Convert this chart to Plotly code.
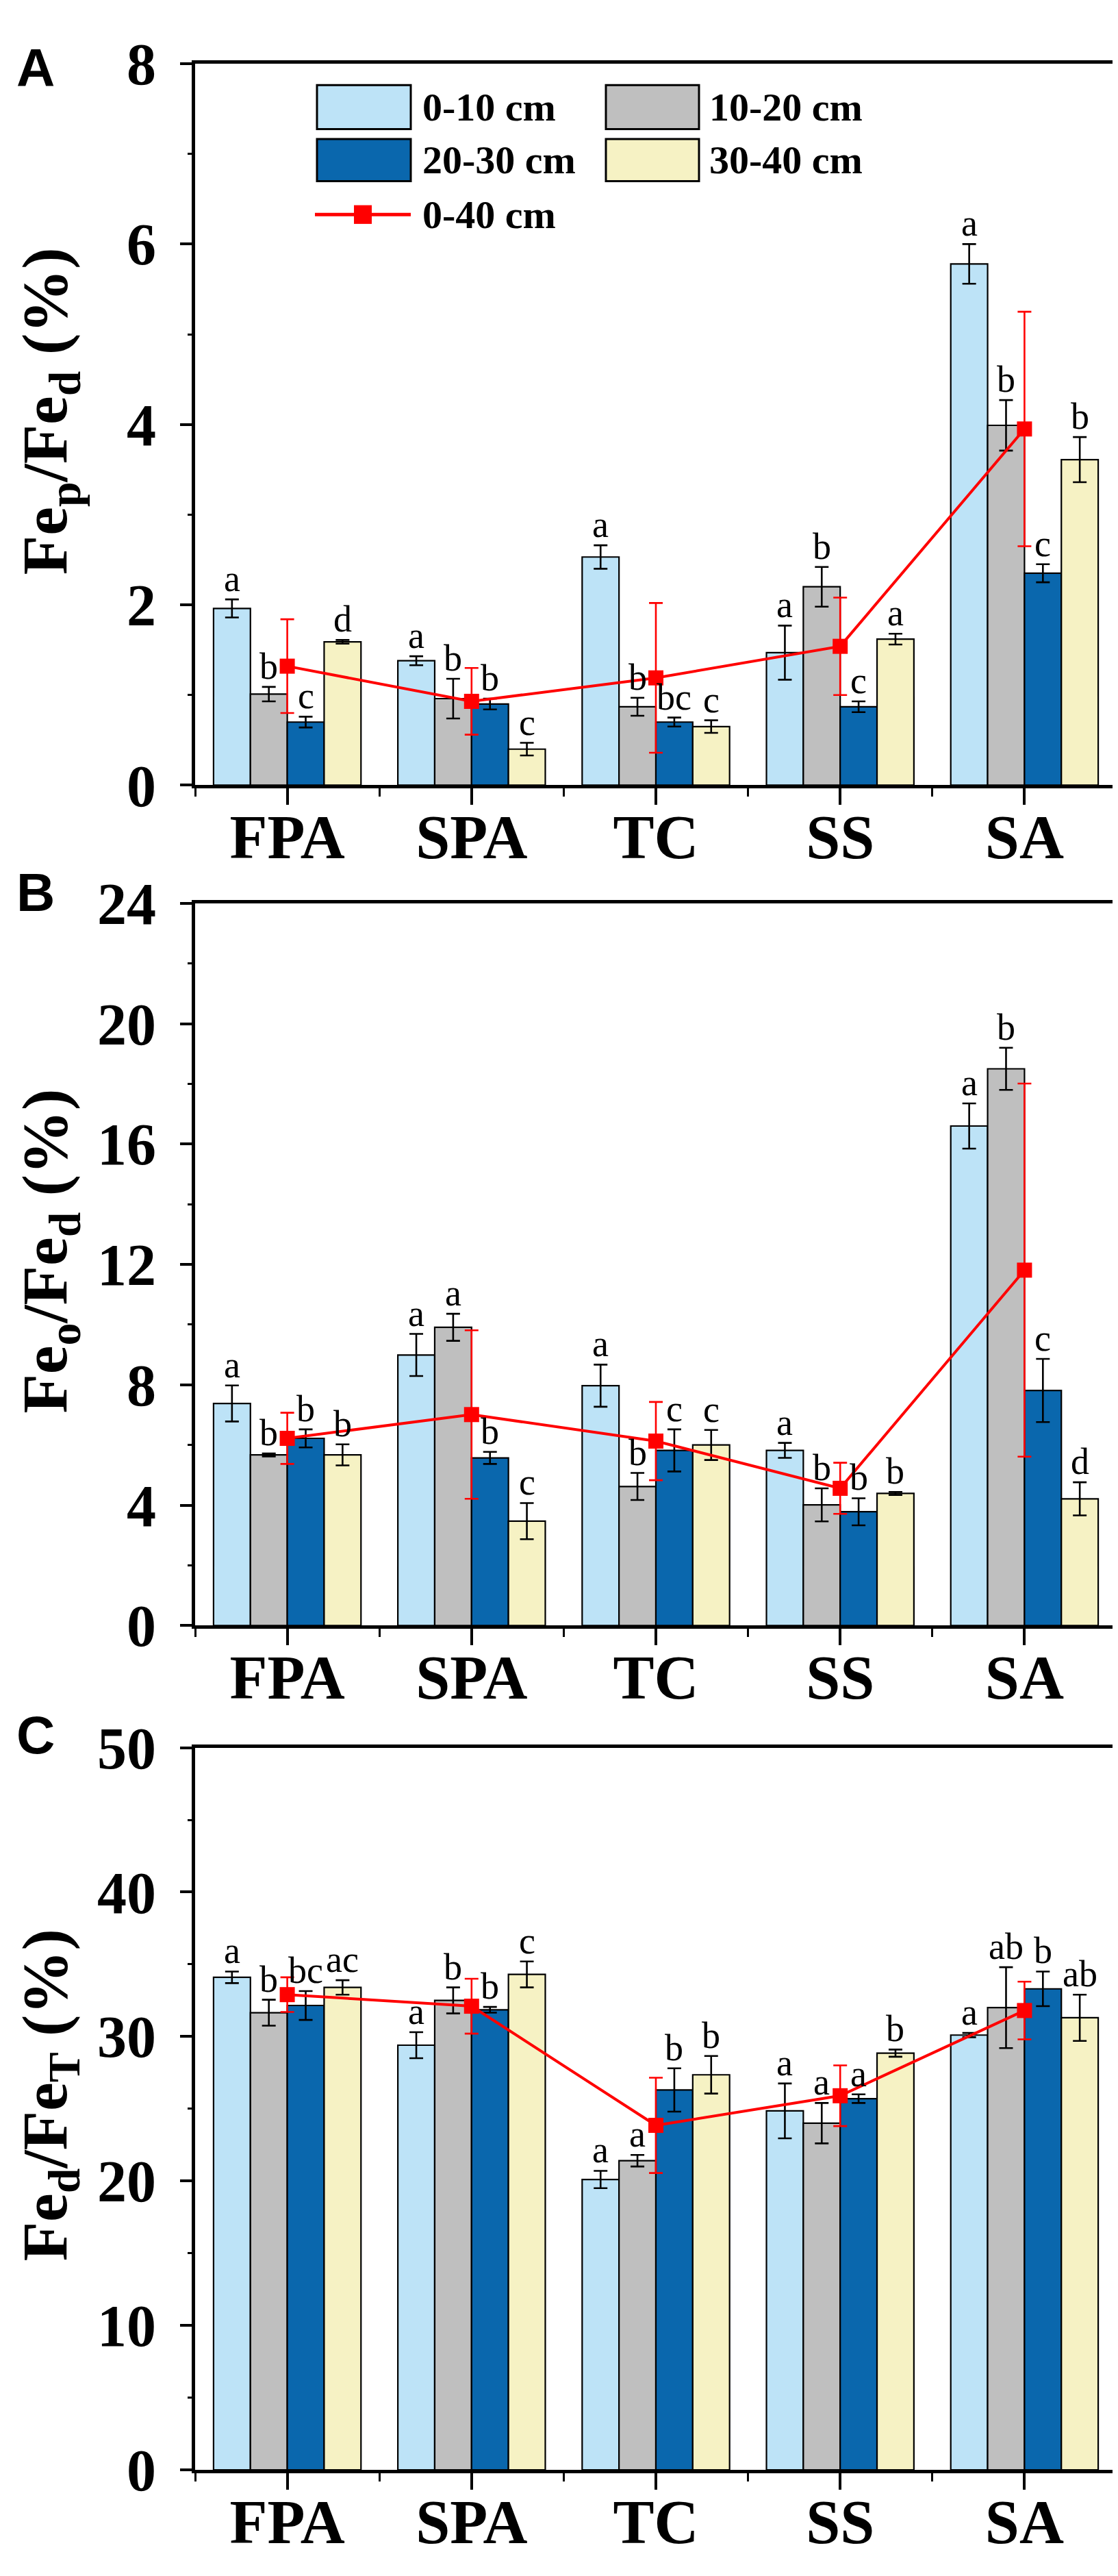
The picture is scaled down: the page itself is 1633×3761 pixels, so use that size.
import plotly.graph_objects as go

W, H = 1633, 3761

categories = ["FPA", "SPA", "TC", "SS", "SA"]
depths = ["0-10 cm", "10-20 cm", "20-30 cm", "30-40 cm"]
mean_label = "0-40 cm"
colors = ["#BDE3F7", "#BFBFBF", "#0A67AD", "#F6F2C4"]

# Panel A: Fep/Fed
a_010 = [1.96, 1.38, 2.53, 1.47, 5.78]
a_010_err = [0.10, 0.05, 0.13, 0.30, 0.22]
a_1020 = [1.01, 0.96, 0.87, 2.20, 3.99]
a_1020_err = [0.08, 0.22, 0.10, 0.22, 0.28]
a_2030 = [0.70, 0.90, 0.70, 0.87, 2.35]
a_2030_err = [0.06, 0.06, 0.05, 0.06, 0.10]
a_3040 = [1.59, 0.40, 0.65, 1.62, 3.61]
a_3040_err = [0.02, 0.07, 0.07, 0.06, 0.25]
a_mean = [1.32, 0.93, 1.19, 1.54, 3.95]
a_mean_err = [0.52, 0.37, 0.83, 0.54, 1.30]
a_letters = [["a", "b", "c", "d"], ["a", "b", "b", "c"], ["a", "b", "bc", "c"],
             ["a", "b", "c", "a"], ["a", "b", "c", "b"]]

# Panel B: Feo/Fed
b_010 = [7.38, 8.99, 7.97, 5.82, 16.6]
b_010_err = [0.60, 0.70, 0.70, 0.25, 0.75]
b_1020 = [5.67, 9.91, 4.62, 4.01, 18.5]
b_1020_err = [0.05, 0.45, 0.45, 0.55, 0.70]
b_2030 = [6.22, 5.57, 5.82, 3.78, 7.81]
b_2030_err = [0.30, 0.20, 0.70, 0.45, 1.05]
b_3040 = [5.67, 3.47, 6.00, 4.39, 4.21]
b_3040_err = [0.35, 0.60, 0.50, 0.05, 0.55]
b_mean = [6.22, 7.01, 6.13, 4.56, 11.81]
b_mean_err = [0.85, 2.80, 1.30, 0.85, 6.20]
b_letters = [["a", "b", "b", "b"], ["a", "a", "b", "c"], ["a", "b", "c", "c"],
             ["a", "b", "b", "b"], ["a", "b", "c", "d"]]

# Panel C: Fed/FeT
c_010 = [34.1, 29.4, 20.1, 24.85, 30.1]
c_010_err = [0.4, 0.9, 0.6, 1.9, 0.15]
c_1020 = [31.65, 32.5, 21.4, 24.0, 32.0]
c_1020_err = [0.9, 0.9, 0.4, 1.4, 2.8]
c_2030 = [32.15, 31.85, 26.3, 25.7, 33.3]
c_2030_err = [1.0, 0.2, 1.5, 0.3, 1.2]
c_3040 = [33.4, 34.3, 27.35, 28.85, 31.3]
c_3040_err = [0.5, 0.9, 1.3, 0.25, 1.6]
c_mean = [32.9, 32.1, 23.85, 25.9, 31.8]
c_mean_err = [1.2, 1.9, 3.3, 2.1, 2.0]
c_letters = [["a", "b", "bc", "ac"], ["a", "b", "b", "c"], ["a", "a", "b", "b"],
             ["a", "a", "a", "b"], ["a", "ab", "b", "ab"]]

y_titles = ["Fe<sub>p</sub>/Fe<sub>d</sub> (%)",
            "Fe<sub>o</sub>/Fe<sub>d</sub> (%)",
            "Fe<sub>d</sub>/Fe<sub>T</sub> (%)"]
panel_tags = ["A", "B", "C"]
y_ranges = [[0, 8], [0, 24], [0, 50]]
y_major = [2, 4, 10]
y_minor = [1, 2, 5]

panels = [
    ([a_010, a_1020, a_2030, a_3040], [a_010_err, a_1020_err, a_2030_err, a_3040_err],
     a_mean, a_mean_err, a_letters),
    ([b_010, b_1020, b_2030, b_3040], [b_010_err, b_1020_err, b_2030_err, b_3040_err],
     b_mean, b_mean_err, b_letters),
    ([c_010, c_1020, c_2030, c_3040], [c_010_err, c_1020_err, c_2030_err, c_3040_err],
     c_mean, c_mean_err, c_letters),
]

# pixel geometry of each panel's plot area (top, bottom) and tag centres
px_left, px_right = 277, 1623
px_rows = [(39, 1120), (1297, 2379), (2562, 3644)]
tag_y = [45, 1281, 2543]

SERIF = "Liberation Serif"
SANS = "Liberation Sans"

fig = go.Figure()
xpos = list(range(len(categories)))
group_w = 0.8
n = len(depths)
offsets = [(j - (n - 1) / 2) * group_w / n for j in range(n)]

annotations = []
layout_axes = {}
for p, (series, errs, mean, mean_err, letters) in enumerate(panels):
    sfx = "" if p == 0 else str(p + 1)
    xa, ya = "x" + sfx, "y" + sfx
    for j in range(n):
        fig.add_trace(go.Bar(
            x=xpos, y=series[j], name=depths[j], xaxis=xa, yaxis=ya,
            marker=dict(color=colors[j], line=dict(color="black", width=2.2)),
            error_y=dict(type="data", array=errs[j], color="black", thickness=2.6, width=10),
            showlegend=False,
        ))
    fig.add_trace(go.Scatter(
        x=xpos, y=mean, name=mean_label, xaxis=xa, yaxis=ya, mode="lines+markers",
        line=dict(color="#FF0000", width=4),
        marker=dict(symbol="square", size=22, color="#FF0000"),
        error_y=dict(type="data", array=mean_err, color="#FF0000", thickness=2.6, width=10),
        showlegend=False,
    ))
    for i in range(len(categories)):
        for j in range(n):
            annotations.append(dict(
                x=xpos[i] + offsets[j], y=series[j][i] + errs[j][i], xref=xa, yref=ya,
                text=letters[i][j], showarrow=False, yanchor="bottom", xanchor="center",
                yshift=-2, font=dict(family=SERIF, size=54, color="black")))
    top, bot = px_rows[p]
    dom_y = [1 - bot / H, 1 - top / H]
    layout_axes["xaxis" + sfx] = dict(
        domain=[px_left / W, px_right / W], range=[-0.5, 4.5], anchor=ya,
        tickmode="array", tickvals=xpos, ticktext=categories,
        ticks="outside", ticklen=24, tickwidth=3.5, tickcolor="black",
        minor=dict(ticks="outside", ticklen=12, tickwidth=3, tickcolor="black", tick0=0.5, dtick=1),
        showline=True, linewidth=4.5, linecolor="black", mirror=True,
        showgrid=False, zeroline=False,
        tickfont=dict(family=SERIF, size=90, color="black", weight="bold"),
        ticklabelstandoff=-30,
    )
    layout_axes["yaxis" + sfx] = dict(
        domain=dom_y, range=y_ranges[p], anchor=xa,
        tickmode="linear", tick0=0, dtick=y_major[p],
        ticks="outside", ticklen=17, tickwidth=3.5, tickcolor="black",
        minor=dict(ticks="outside", ticklen=6, tickwidth=3, tickcolor="black", dtick=y_minor[p]),
        showline=True, linewidth=4.5, linecolor="black", mirror=True,
        showgrid=False, zeroline=False,
        tickfont=dict(family=SERIF, size=86, color="black", weight="bold"),
        ticklabelstandoff=18,
    )
    # y-axis title
    annotations.append(dict(
        x=64 / W, y=1 - ((top + bot) / 2 - 20) / H, xref="paper", yref="paper",
        text="<b>" + y_titles[p] + "</b>", showarrow=False, textangle=-90,
        xanchor="center", yanchor="middle", borderpad=0,
        font=dict(family=SERIF, size=94, color="black")))
    # panel tag
    annotations.append(dict(
        x=14 / W, y=1 - tag_y[p] / H, xref="paper", yref="paper",
        text="<b>" + panel_tags[p] + "</b>", showarrow=False,
        xanchor="left", yanchor="middle",
        font=dict(family=SANS, size=78, color="black")))

# manual legend in panel A (large swatches like the original)
shapes = []
leg_cols = [(455, 592, 607), (877, 1013, 1026)]
leg_rows = [(71, 137), (152, 215)]
for j in range(n):
    col = leg_cols[j % 2]
    row = leg_rows[j // 2]
    shapes.append(dict(type="rect", xref="paper", yref="paper",
                       x0=col[0] / W, x1=col[1] / W, y0=1 - row[1] / H, y1=1 - row[0] / H,
                       fillcolor=colors[j], line=dict(color="black", width=3)))
    annotations.append(dict(
        x=col[2] / W, y=1 - (row[0] + row[1]) / 2 / H, xref="paper", yref="paper",
        text="<b>" + depths[j] + "</b>", showarrow=False, xanchor="left", yanchor="middle",
        font=dict(family=SERIF, size=58, color="black")))
ly = 265
shapes.append(dict(type="line", xref="paper", yref="paper",
                   x0=452 / W, x1=592 / W, y0=1 - ly / H, y1=1 - ly / H,
                   line=dict(color="#FF0000", width=5)))
shapes.append(dict(type="rect", xref="paper", yref="paper",
                   x0=509 / W, x1=535 / W, y0=1 - (ly + 14) / H, y1=1 - (ly - 14) / H,
                   fillcolor="#FF0000", line=dict(color="#FF0000", width=0)))
annotations.append(dict(
    x=607 / W, y=1 - ly / H, xref="paper", yref="paper",
    text="<b>" + mean_label + "</b>", showarrow=False, xanchor="left", yanchor="middle",
    font=dict(family=SERIF, size=58, color="black")))

fig.update_layout(
    width=W, height=H, margin=dict(l=0, r=0, t=0, b=0),
    paper_bgcolor="white", plot_bgcolor="white",
    barmode="group", bargap=0.2, bargroupgap=0,
    showlegend=False, annotations=annotations, shapes=shapes,
    **layout_axes,
)
fig.write_html("out.html")
